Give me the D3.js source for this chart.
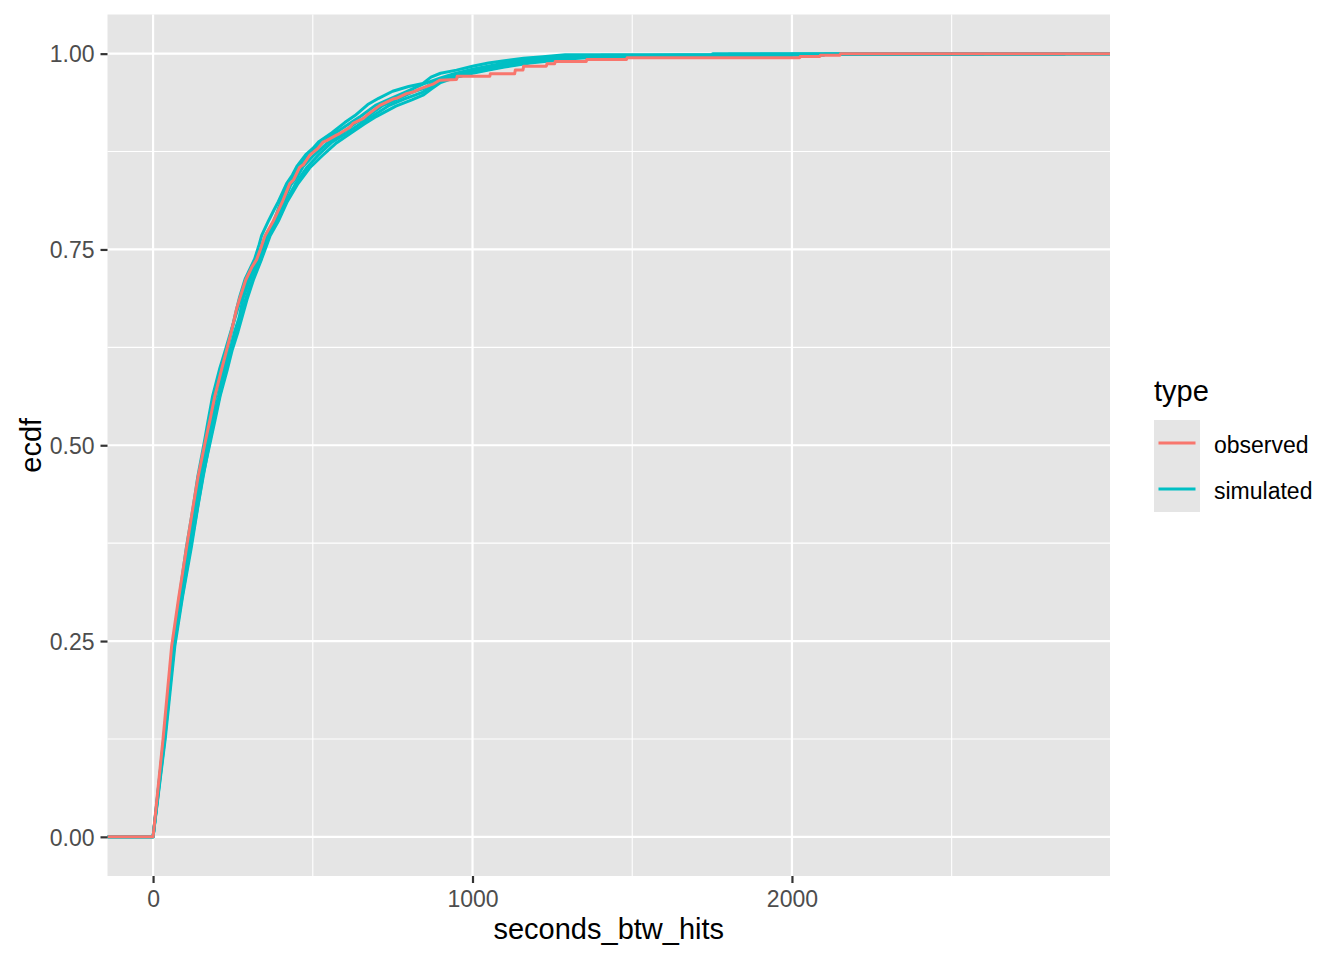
<!DOCTYPE html>
<html>
<head>
<meta charset="utf-8">
<script src="https://cdn.jsdelivr.net/npm/d3@7"></script>
<style>
  html, body { margin: 0; padding: 0; background: #ffffff; }
  svg { display: block; font-family: "Liberation Sans", Arial, Helvetica, sans-serif; }
</style>
</head>
<body>
<svg id="chart" width="1344" height="960"></svg>
<script>
// ---------------- data ----------------
const xTicks = [0, 1000, 2000];
const xMinor = [500, 1500, 2500];
const yTicks = [0, 0.25, 0.5, 0.75, 1];
const yMinor = [0.125, 0.375, 0.625, 0.875];
const yTickLabels = ["0.00", "0.25", "0.50", "0.75", "1.00"];
const types = ["observed", "simulated"];
const typeColors = ["#F8766D", "#00BFC4"];
const xRange = [0, 2853];

// [seconds_btw_hits, ecdf]; -Infinity / Infinity are the ECDF pads
const observed = [[-Infinity,0],[0,0],[31,0.124],[58,0.243],[80,0.305],[105,0.370],[125,0.421],[141,0.460],[162,0.502],[178,0.532],[193,0.562],[214,0.596],[230,0.621],[245,0.645],[262,0.675],[271,0.687],[290,0.711],[310,0.728],[324,0.737],[336,0.750],[350,0.767],[376,0.786],[404,0.810],[428,0.834],[440,0.839],[459,0.855],[470,0.858],[490,0.870],[501,0.874],[516,0.879],[532,0.887],[543,0.889],[574,0.896],[584,0.898],[616,0.906],[626,0.911],[657,0.917],[668,0.921],[710,0.934],[751,0.942],[762,0.943],[793,0.949],[814,0.951],[835,0.955],[876,0.961],[897,0.966],[950,0.967],[952,0.971],[1054,0.971],[1056,0.9745],[1132,0.9745],[1134,0.979],[1158,0.979],[1160,0.984],[1231,0.984],[1233,0.987],[1257,0.987],[1259,0.990],[1356,0.990],[1358,0.9927],[1482,0.9927],[1484,0.9948],[2024,0.9948],[2026,0.9964],[2087,0.9964],[2089,0.998],[2150,0.998],[2152,1],[Infinity,1]];

const simA = [[-Infinity,0],[0,0],[33,0.124],[62,0.243],[84,0.305],[108,0.372],[127,0.418],[146,0.462],[168,0.503],[181,0.530],[196,0.563],[214,0.594],[233,0.622],[246,0.646],[258,0.668],[270,0.688],[288,0.712],[318,0.738],[332,0.756],[340,0.768],[362,0.787],[378,0.800],[392,0.811],[418,0.834],[436,0.845],[450,0.856],[478,0.871],[500,0.879],[520,0.888],[560,0.899],[600,0.912],[632,0.921],[672,0.935],[706,0.943],[750,0.952],[800,0.958],[845,0.962],[870,0.970],[900,0.975],[950,0.979],[1000,0.984],[1050,0.988],[1100,0.991],[1160,0.994],[1220,0.996],[1290,0.9985],[1750,0.9988],[1752,1],[Infinity,1]];

const simB = [[-Infinity,0],[0,0],[35,0.124],[64,0.242],[87,0.306],[112,0.369],[133,0.421],[150,0.459],[172,0.501],[188,0.533],[204,0.561],[222,0.597],[240,0.620],[256,0.646],[270,0.664],[282,0.688],[302,0.710],[330,0.737],[356,0.766],[380,0.786],[406,0.809],[432,0.833],[450,0.842],[470,0.856],[500,0.869],[546,0.886],[590,0.898],[636,0.912],[672,0.920],[720,0.934],[760,0.941],[812,0.951],[845,0.955],[868,0.961],[900,0.966],[940,0.971],[1000,0.978],[1050,0.982],[1100,0.986],[1160,0.990],[1220,0.993],[1300,0.996],[1400,0.997],[1402,0.998],[1800,0.998],[1802,0.9993],[2200,0.9993],[2202,1],[Infinity,1]];

const simC = [[-Infinity,0],[0,0],[36,0.123],[66,0.244],[90,0.304],[118,0.371],[139,0.420],[156,0.461],[178,0.502],[194,0.532],[210,0.563],[232,0.596],[248,0.622],[266,0.645],[294,0.686],[314,0.711],[340,0.738],[366,0.767],[392,0.786],[420,0.811],[452,0.833],[490,0.854],[528,0.869],[574,0.886],[614,0.897],[660,0.910],[700,0.920],[760,0.933],[810,0.941],[845,0.947],[872,0.955],[900,0.963],[950,0.970],[1000,0.975],[1050,0.979],[1100,0.983],[1180,0.988],[1270,0.992],[1330,0.994],[1420,0.996],[1650,0.998],[2000,0.998],[2002,0.9993],[2853,0.9993],[2853,1],[Infinity,1]];

const simD = [[-Infinity,0],[0,0],[34,0.125],[61,0.243],[82,0.305],[104,0.369],[126,0.422],[140,0.460],[160,0.503],[172,0.531],[186,0.562],[208,0.597],[226,0.621],[244,0.646],[274,0.686],[296,0.712],[326,0.737],[352,0.768],[378,0.786],[400,0.811],[424,0.833],[456,0.855],[486,0.870],[528,0.886],[572,0.899],[616,0.911],[650,0.920],[696,0.934],[740,0.942],[790,0.951],[845,0.961],[900,0.969],[940,0.974],[1000,0.980],[1100,0.988],[1190,0.993],[1320,0.996],[1440,0.997],[1600,0.998],[1900,0.998],[1902,0.9993],[2400,0.9993],[2402,1],[Infinity,1]];

const simE = [[-Infinity,0],[0,0],[38,0.125],[68,0.243],[92,0.306],[120,0.370],[140,0.421],[157,0.460],[176,0.502],[192,0.533],[208,0.562],[228,0.597],[244,0.621],[262,0.646],[290,0.687],[310,0.710],[338,0.738],[362,0.766],[386,0.787],[414,0.810],[446,0.834],[482,0.855],[516,0.870],[560,0.887],[604,0.898],[650,0.911],[690,0.921],[740,0.934],[786,0.942],[845,0.951],[900,0.965],[960,0.971],[1000,0.976],[1100,0.984],[1200,0.990],[1300,0.994],[1380,0.996],[1800,0.998],[2100,0.998],[2102,0.9993],[2600,0.9993],[2602,1],[Infinity,1]];

const seriesList = [
  { type: "simulated", values: simA },
  { type: "simulated", values: simB },
  { type: "simulated", values: simC },
  { type: "simulated", values: simD },
  { type: "simulated", values: simE },
  { type: "observed",  values: observed }
];

// ---------------- layout ----------------
const panel = { left: 107.5, right: 1110, top: 14.5, bottom: 876 };
const panelFill = "#E5E5E5";
const svg = d3.select("#chart");
svg.append("rect").attr("width", 1344).attr("height", 960).attr("fill", "#ffffff");

const span = xRange[1] - xRange[0];
const x = d3.scaleLinear()
  .domain([xRange[0] - 0.05 * span, xRange[1] + 0.05 * span])
  .range([panel.left, panel.right]);
const y = d3.scaleLinear()
  .domain([-0.05, 1.05])
  .range([panel.bottom, panel.top]);
const color = d3.scaleOrdinal().domain(types).range(typeColors);

// panel background
svg.append("rect")
  .attr("x", panel.left).attr("y", panel.top)
  .attr("width", panel.right - panel.left).attr("height", panel.bottom - panel.top)
  .attr("fill", panelFill);

const grid = svg.append("g");
grid.selectAll(".xminor").data(xMinor).join("line")
  .attr("x1", d => x(d)).attr("x2", d => x(d))
  .attr("y1", panel.top).attr("y2", panel.bottom)
  .attr("stroke", "#ffffff").attr("stroke-width", 1.1);
grid.selectAll(".yminor").data(yMinor).join("line")
  .attr("y1", d => y(d)).attr("y2", d => y(d))
  .attr("x1", panel.left).attr("x2", panel.right)
  .attr("stroke", "#ffffff").attr("stroke-width", 1.1);
grid.selectAll(".xmajor").data(xTicks).join("line")
  .attr("x1", d => x(d)).attr("x2", d => x(d))
  .attr("y1", panel.top).attr("y2", panel.bottom)
  .attr("stroke", "#ffffff").attr("stroke-width", 2.2);
grid.selectAll(".ymajor").data(yTicks).join("line")
  .attr("y1", d => y(d)).attr("y2", d => y(d))
  .attr("x1", panel.left).attr("x2", panel.right)
  .attr("stroke", "#ffffff").attr("stroke-width", 2.2);

// clip
svg.append("clipPath").attr("id", "clip").append("rect")
  .attr("x", panel.left).attr("y", panel.top)
  .attr("width", panel.right - panel.left).attr("height", panel.bottom - panel.top);

const px = v => v === -Infinity ? x.range()[0] : (v === Infinity ? x.range()[1] : x(v));
const line = d3.line().x(d => px(d[0])).y(d => y(d[1]));

svg.append("g").attr("clip-path", "url(#clip)")
  .selectAll("path").data(seriesList).join("path")
  .attr("d", d => line(d.values))
  .attr("fill", "none")
  .attr("stroke", d => color(d.type))
  .attr("stroke-width", 3)
  .attr("stroke-linejoin", "round");

// axes
const xAxis = svg.append("g").attr("transform", `translate(0,${panel.bottom})`)
  .call(d3.axisBottom(x).tickValues(xTicks).tickSize(7).tickPadding(6).tickFormat(d3.format("d")));
xAxis.select(".domain").remove();
xAxis.selectAll(".tick line").attr("stroke", "#333333").attr("stroke-width", 2.2);
xAxis.selectAll(".tick text").attr("fill", "#4D4D4D").attr("font-size", 23)
  .attr("font-family", "'Liberation Sans', Arial, Helvetica, sans-serif")
  .attr("dy", null).attr("y", 30.5);

const yAxis = svg.append("g").attr("transform", `translate(${panel.left},0)`)
  .call(d3.axisLeft(y).tickValues(yTicks).tickSize(7).tickPadding(6)
    .tickFormat((d, i) => yTickLabels[i]));
yAxis.select(".domain").remove();
yAxis.selectAll(".tick line").attr("stroke", "#333333").attr("stroke-width", 2.2);
yAxis.selectAll(".tick text").attr("fill", "#4D4D4D").attr("font-size", 23)
  .attr("font-family", "'Liberation Sans', Arial, Helvetica, sans-serif")
  .attr("dy", null).attr("y", 8.2).attr("x", -13);

// axis titles
svg.append("text")
  .attr("x", (panel.left + panel.right) / 2).attr("y", 939)
  .attr("text-anchor", "middle").attr("font-size", 29).attr("fill", "#000000")
  .text("seconds_btw_hits");
svg.append("text")
  .attr("transform", `translate(41,${(panel.top + panel.bottom) / 2}) rotate(-90)`)
  .attr("text-anchor", "middle").attr("font-size", 29).attr("fill", "#000000")
  .text("ecdf");

// legend
const legend = svg.append("g").attr("transform", "translate(1154,0)");
legend.append("text").attr("x", 0).attr("y", 401)
  .attr("font-size", 29).attr("fill", "#000000").text("type");
const keys = legend.selectAll(".key").data(types).join("g")
  .attr("transform", (d, i) => `translate(0,${420 + i * 46})`);
keys.append("rect").attr("width", 46).attr("height", 46).attr("fill", panelFill);
keys.append("line").attr("x1", 4.5).attr("x2", 41.5).attr("y1", 23).attr("y2", 23)
  .attr("stroke", d => color(d)).attr("stroke-width", 3);
keys.append("text").attr("x", 60).attr("y", 23 + 9.5)
  .attr("font-size", 23).attr("fill", "#000000").text(d => d);
</script>
</body>
</html>
